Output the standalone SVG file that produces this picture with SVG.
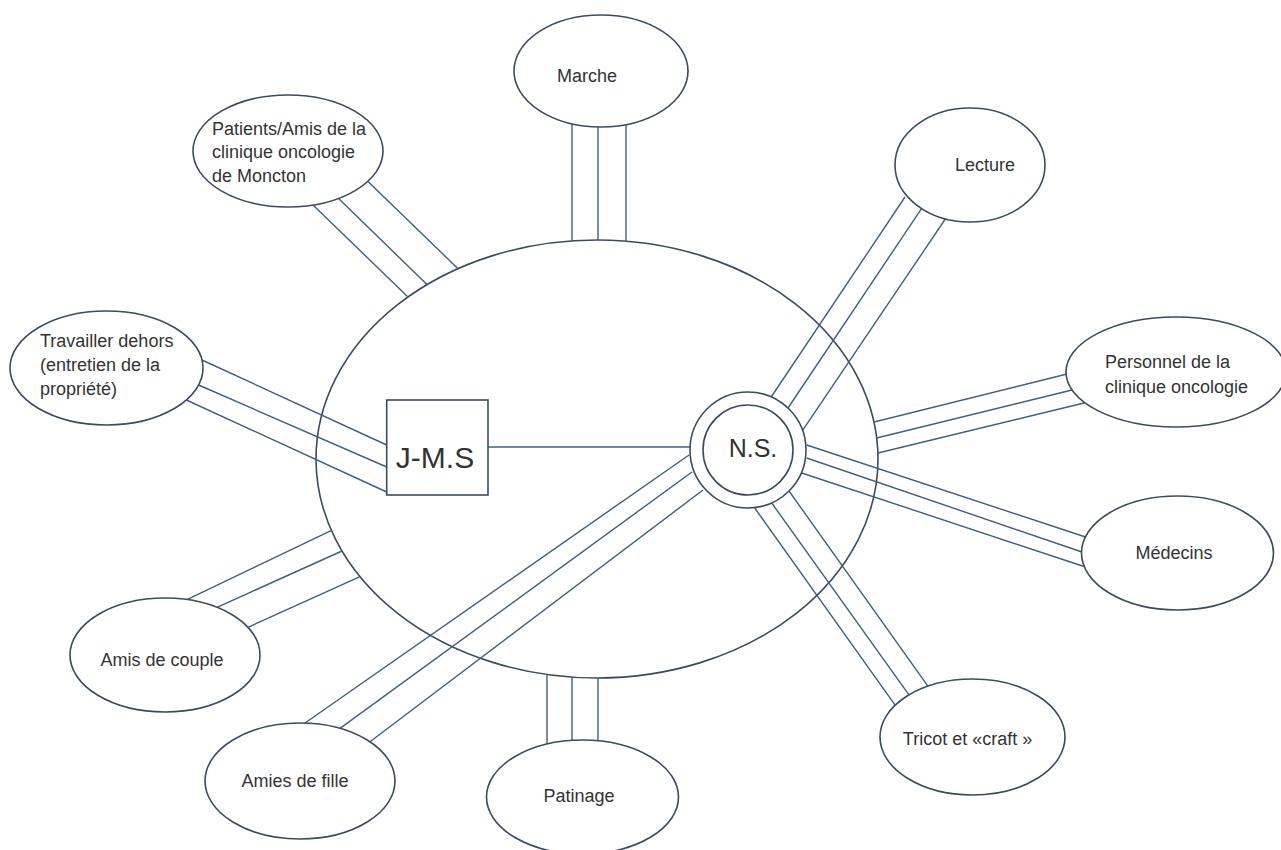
<svg xmlns="http://www.w3.org/2000/svg" width="1281" height="850" viewBox="0 0 1281 850">
<style>
.shape{fill:#ffffff;stroke:#3d4b5f;stroke-width:1.6}
.frame{fill:none;stroke:#3d4b5f;stroke-width:1.6}
.link{stroke:#405d86;stroke-width:1.4;fill:none}
.lbl{font-family:"Liberation Sans",Arial,sans-serif;font-size:18px;fill:#333333}
.mid{text-anchor:middle}
</style>
<rect x="0" y="0" width="1281" height="850" fill="#ffffff"/>
<g id="famille">
<ellipse class="frame" cx="597" cy="459" rx="281" ry="219"/>
</g>
<g id="connecteurs">
<line class="link" x1="488" y1="447" x2="690" y2="447"/>
<line class="link" x1="572" y1="124" x2="572" y2="241"/>
<line class="link" x1="598" y1="127" x2="598" y2="240"/>
<line class="link" x1="626" y1="125" x2="626" y2="241"/>
<line class="link" x1="313" y1="205" x2="408" y2="297"/>
<line class="link" x1="338.6" y1="198.6" x2="427.5" y2="285"/>
<line class="link" x1="368" y1="181.4" x2="458" y2="268.7"/>
<line class="link" x1="905" y1="197" x2="771.2" y2="397"/>
<line class="link" x1="921.7" y1="208.3" x2="788" y2="408"/>
<line class="link" x1="946.7" y1="217" x2="802.6" y2="430.3"/>
<line class="link" x1="874" y1="422" x2="1067" y2="374"/>
<line class="link" x1="876.7" y1="438" x2="1072" y2="390"/>
<line class="link" x1="878" y1="453" x2="1084" y2="403"/>
<line class="link" x1="806.7" y1="445" x2="1085.5" y2="537"/>
<line class="link" x1="806.7" y1="458" x2="1082" y2="552"/>
<line class="link" x1="801.7" y1="473" x2="1085.5" y2="567"/>
<line class="link" x1="754" y1="507" x2="895.3" y2="705.3"/>
<line class="link" x1="771" y1="502" x2="909.3" y2="695.3"/>
<line class="link" x1="789" y1="491" x2="927.9" y2="686.1"/>
<line class="link" x1="547" y1="674.5" x2="547" y2="744"/>
<line class="link" x1="572" y1="677" x2="572" y2="740.3"/>
<line class="link" x1="598" y1="678" x2="598" y2="740.7"/>
<line class="link" x1="305" y1="723" x2="689" y2="455"/>
<line class="link" x1="340" y1="728.4" x2="692" y2="472"/>
<line class="link" x1="370" y1="741.8" x2="703" y2="490"/>
<line class="link" x1="187" y1="599.6" x2="331" y2="530.6"/>
<line class="link" x1="217" y1="607.3" x2="342" y2="551"/>
<line class="link" x1="248" y1="627.3" x2="360" y2="576.6"/>
<line class="link" x1="202" y1="360" x2="386.7" y2="445"/>
<line class="link" x1="198.6" y1="385" x2="386.7" y2="467"/>
<line class="link" x1="186.4" y1="400" x2="386.7" y2="492"/>
</g>
<g id="jms">
<rect class="shape" x="386.7" y="400" width="101.3" height="95"/>
<text class="lbl mid" x="435" y="468" style="font-size:30px">J-M.S</text>
</g>
<g id="ns">
<circle class="shape" cx="748" cy="450" r="58"/>
<circle class="shape" cx="748" cy="450" r="45"/>
<text class="lbl mid" x="753" y="457" style="font-size:25px">N.S.</text>
</g>
<g id="marche">
<ellipse class="shape" cx="601" cy="71" rx="87" ry="56"/>
<text class="lbl mid" x="587" y="82">Marche</text>
</g>
<g id="patients">
<ellipse class="shape" cx="288" cy="151" rx="95" ry="56"/>
<text class="lbl" x="212" y="135">Patients/Amis de la</text>
<text class="lbl" x="212" y="158">clinique oncologie</text>
<text class="lbl" x="212" y="182">de Moncton</text>
</g>
<g id="lecture">
<ellipse class="shape" cx="970" cy="165" rx="75" ry="57"/>
<text class="lbl mid" x="985" y="171">Lecture</text>
</g>
<g id="personnel">
<ellipse class="shape" cx="1176" cy="372" rx="110" ry="55"/>
<text class="lbl" x="1105" y="368">Personnel de la</text>
<text class="lbl" x="1105" y="393">clinique oncologie</text>
</g>
<g id="medecins">
<ellipse class="shape" cx="1177.5" cy="553" rx="96" ry="57"/>
<text class="lbl mid" x="1174" y="559">Médecins</text>
</g>
<g id="tricot">
<ellipse class="shape" cx="972.5" cy="737" rx="92.5" ry="58"/>
<text class="lbl mid" x="967.5" y="745">Tricot et «craft »</text>
</g>
<g id="patinage">
<ellipse class="shape" cx="582.5" cy="797" rx="96" ry="57"/>
<text class="lbl mid" x="579" y="802">Patinage</text>
</g>
<g id="amies-fille">
<ellipse class="shape" cx="300" cy="781" rx="95" ry="58"/>
<text class="lbl mid" x="295" y="787">Amies de fille</text>
</g>
<g id="amis-couple">
<ellipse class="shape" cx="165" cy="655" rx="95" ry="57"/>
<text class="lbl mid" x="162" y="666">Amis de couple</text>
</g>
<g id="travailler">
<ellipse class="shape" cx="106.5" cy="368" rx="96.5" ry="57"/>
<text class="lbl" x="40" y="347">Travailler dehors</text>
<text class="lbl" x="40" y="371">(entretien de la</text>
<text class="lbl" x="40" y="395">propriété)</text>
</g>
</svg>
